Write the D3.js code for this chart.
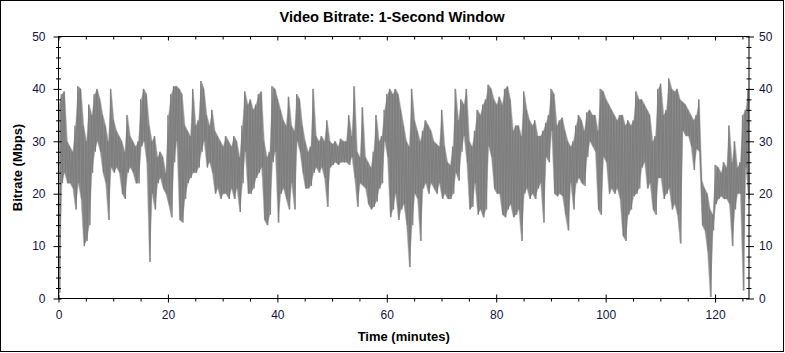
<!DOCTYPE html>
<html>
<head>
<meta charset="UTF-8">
<title>Video Bitrate: 1-Second Window</title>
<style>
  body { margin: 0; background: #fff; }
</style>
</head>
<body>
<script src="https://d3js.org/d3.v7.min.js"></script>
<script>
// sample step is half a minute; each step has a peak and a dip (Mbps)
var step = 0.5;
var tEnd = 126.2;

var hiVals = [
  37,39,39.5,30,29,28,33,40.5,40,33, 30,37,35,39,40,38,35,33,30,40,          // 0-10
  34,32,31,30,28,35,31,30,29,30, 38,40,39,33,30,31,27,28,27,24,              // 10-20
  35,39,40.5,40.5,40,39,33,32,31,40, 33,34,41.5,40,35,33,36,32,31,30,        // 20-30
  29,31,30,29,31,30,27,33,39.5,37, 38,36,37,39,39.5,30,27,28,40.5,40,        // 30-40
  38,36,34,33,38.5,33,32,39,38,33, 30,28,29,40,31,30,31,30,34,30,            // 40-50
  29.5,30,29,30.5,30,30,35,31,40.5,28, 27,36.5,27,26,25,28,35,30,31,36,      // 50-60
  39,40,39,40,39,36,33,30,29,40, 34,32,30,32,34,33,32,30,29.5,29,            // 60-70
  36,29,26,25.5,29,40,34,38,37,40, 30,29,32,36,35,37,38,40.8,40,38,          // 70-80
  37,38.5,37,40,40.5,38,32,33,33,31, 39.5,36,34,33,34,31,31,32,33.5,35,      // 80-90
  40,39,33,34,34.5,32,30,29,30,33, 35,34,32,35.5,36,35,35,32,40,39.5,        // 90-100
  38,37,36,35,34,35,35,33,34,33, 34,39.5,38,38,37,36,35,30,31,40,            // 100-110
  41,35,36,42,40,39.5,40,38,37.5,37, 36,35,34,35,38,22.5,21,20,17,16,        // 110-120
  25.5,25,24,26,25,33,26,30,25,26, 35,36,40                                  // 120-126
];
var loVals = [
  1,22,24,22,22,21,17,22,19,10, 11,14,24,28,30,28,24,22,15,25,
  24,25,24,20,19,24,25,24,22,22, 29,30,26,7,20,17,22,23,21,20,
  18,15.5,26,30,15,14.5,19,22,23,24, 24,25,28,30,25,26,24,20,21,19,
  20,20,19,21,19,21,16.5,22,28,20, 20,21,23,24,25,15,14,16,26,28,
  14.5,20,21,19,17,22,17,30,28,24, 21,21,21.5,24,25,24,25,23,17.5,25,
  25.5,26,25.5,26,26,26,25.5,27,23,17.5, 22,21.5,21,18,17,17.5,18.5,21,22,30,
  27,15.5,17,20,15,17,18,14,6,14, 20,19,11,21,22,20,22,21,20,22,
  19,20,19,19,20,24,22.5,28,31,26, 17,17.5,22,16,17,15.5,17,29,27,21,
  20,20,16,15.5,17,18,15.5,16,17,11, 20,21,19,20,19,21,22,14.5,27,26,
  32,20,19.5,20,19.5,16,13,22,17,22, 23,22,21.5,27,30,29,28,17,16,27,
  26,20,21,20,21,19,12,11,16,17, 19.5,20,21,25,26,21,22,17,16,23,
  23,19,20,21,17,18,16,10.5,32,31, 31,29,24.5,28.5,28,14,13,9,0.3,13,
  18,19,19.5,19,19,18,10,17,20,20, 1.5,25,19
];

var xTicks = [0, 20, 40, 60, 80, 100, 120];
var yTicks = [0, 10, 20, 30, 40, 50];

var width = 785, height = 353;
var font = "'Liberation Sans', Arial, sans-serif";
var tickColor = "#141440";

var svg = d3.select("body").append("svg")
    .attr("width", width)
    .attr("height", height);

// outer border
svg.append("rect")
    .attr("x", 0.5).attr("y", 0.5)
    .attr("width", width - 2).attr("height", height - 2)
    .attr("fill", "#fff")
    .attr("stroke", "#000");

var x = d3.scaleLinear().domain([0, tEnd]).range([58.5, 749]);
var y = d3.scaleLinear().domain([0, 50]).range([298.5, 36.5]);

var samples = hiVals.map(function(h, i) {
    return { t: i * step, hi: h, lo: loVals[i] };
});

// filled band between dips and peaks
var band = d3.area()
    .x(function(d) { return x(d.t + step / 4); })
    .y0(function(d) { return y(d.lo); })
    .y1(function(d) { return y(d.hi); });

svg.append("path")
    .datum(samples)
    .attr("fill", "#8a8a8a")
    .attr("stroke", "#b0b0b0")
    .attr("stroke-width", 0.5)
    .attr("d", band);

// zig-zag trace on top: peak, then dip
var pts = [];
samples.forEach(function(d) {
    pts.push([d.t, d.hi]);
    pts.push([d.t + step / 2, d.lo]);
});

var line = d3.line()
    .x(function(d) { return x(d[0]); })
    .y(function(d) { return y(d[1]); });

svg.append("path")
    .datum(pts)
    .attr("fill", "none")
    .attr("stroke", "#7a7a7a")
    .attr("stroke-width", 0.8)
    .attr("d", line);

// frame of plot area
svg.append("rect")
    .attr("x", x(0)).attr("y", y(50))
    .attr("width", x(tEnd) - x(0)).attr("height", y(0) - y(50))
    .attr("fill", "none")
    .attr("stroke", "#000");

var xMinor = d3.range(5, tEnd, 5).filter(function(v) { return v % 20 != 0; });
var yMinor = d3.range(2, 50, 2).filter(function(v) { return v % 10 != 0; });

function styleAxis(g) {
    g.select(".domain").remove();
    g.selectAll(".tick line").attr("stroke", "#000");
    g.selectAll("text")
        .attr("font-family", font)
        .attr("font-size", 12)
        .attr("fill", tickColor);
}

// bottom
svg.append("g")
    .attr("transform", "translate(0," + y(0) + ")")
    .call(d3.axisBottom(x).tickValues(xTicks).tickSize(4).tickPadding(8))
    .call(styleAxis)
    .selectAll(".tick line").attr("y1", -4);
svg.append("g")
    .attr("transform", "translate(0," + y(0) + ")")
    .call(d3.axisBottom(x).tickValues(xMinor).tickSize(3).tickFormat(""))
    .call(styleAxis);

// top (ticks pointing in)
svg.append("g")
    .attr("transform", "translate(0," + y(50) + ")")
    .call(d3.axisBottom(x).tickValues(xTicks).tickSize(4).tickFormat(""))
    .call(styleAxis);
svg.append("g")
    .attr("transform", "translate(0," + y(50) + ")")
    .call(d3.axisBottom(x).tickValues(xMinor).tickSize(3).tickFormat(""))
    .call(styleAxis);

// left
svg.append("g")
    .attr("transform", "translate(" + x(0) + ",0)")
    .call(d3.axisLeft(y).tickValues(yTicks).tickSize(5).tickPadding(8))
    .call(styleAxis)
    .selectAll(".tick line").attr("x1", 3);
svg.append("g")
    .attr("transform", "translate(" + x(0) + ",0)")
    .call(d3.axisLeft(y).tickValues(yMinor).tickSize(2.5).tickFormat(""))
    .call(styleAxis)
    .selectAll(".tick line").attr("x1", 2.5);

// right
svg.append("g")
    .attr("transform", "translate(" + x(tEnd) + ",0)")
    .call(d3.axisRight(y).tickValues(yTicks).tickSize(5).tickPadding(5))
    .call(styleAxis)
    .selectAll(".tick line").attr("x1", -3);
svg.append("g")
    .attr("transform", "translate(" + x(tEnd) + ",0)")
    .call(d3.axisRight(y).tickValues(yMinor).tickSize(2.5).tickFormat(""))
    .call(styleAxis)
    .selectAll(".tick line").attr("x1", -2.5);

// titles
svg.append("text")
    .attr("x", 392).attr("y", 22)
    .attr("text-anchor", "middle")
    .attr("font-family", font).attr("font-size", 14.67).attr("font-weight", "bold")
    .text("Video Bitrate: 1-Second Window");

svg.append("text")
    .attr("x", (x(0) + x(tEnd)) / 2).attr("y", 341)
    .attr("text-anchor", "middle")
    .attr("font-family", font).attr("font-size", 13).attr("font-weight", "bold")
    .text("Time (minutes)");

svg.append("text")
    .attr("transform", "translate(22," + (y(0) + y(50)) / 2 + ") rotate(-90)")
    .attr("text-anchor", "middle")
    .attr("font-family", font).attr("font-size", 13).attr("font-weight", "bold")
    .text("Bitrate (Mbps)");
</script>
</body>
</html>
